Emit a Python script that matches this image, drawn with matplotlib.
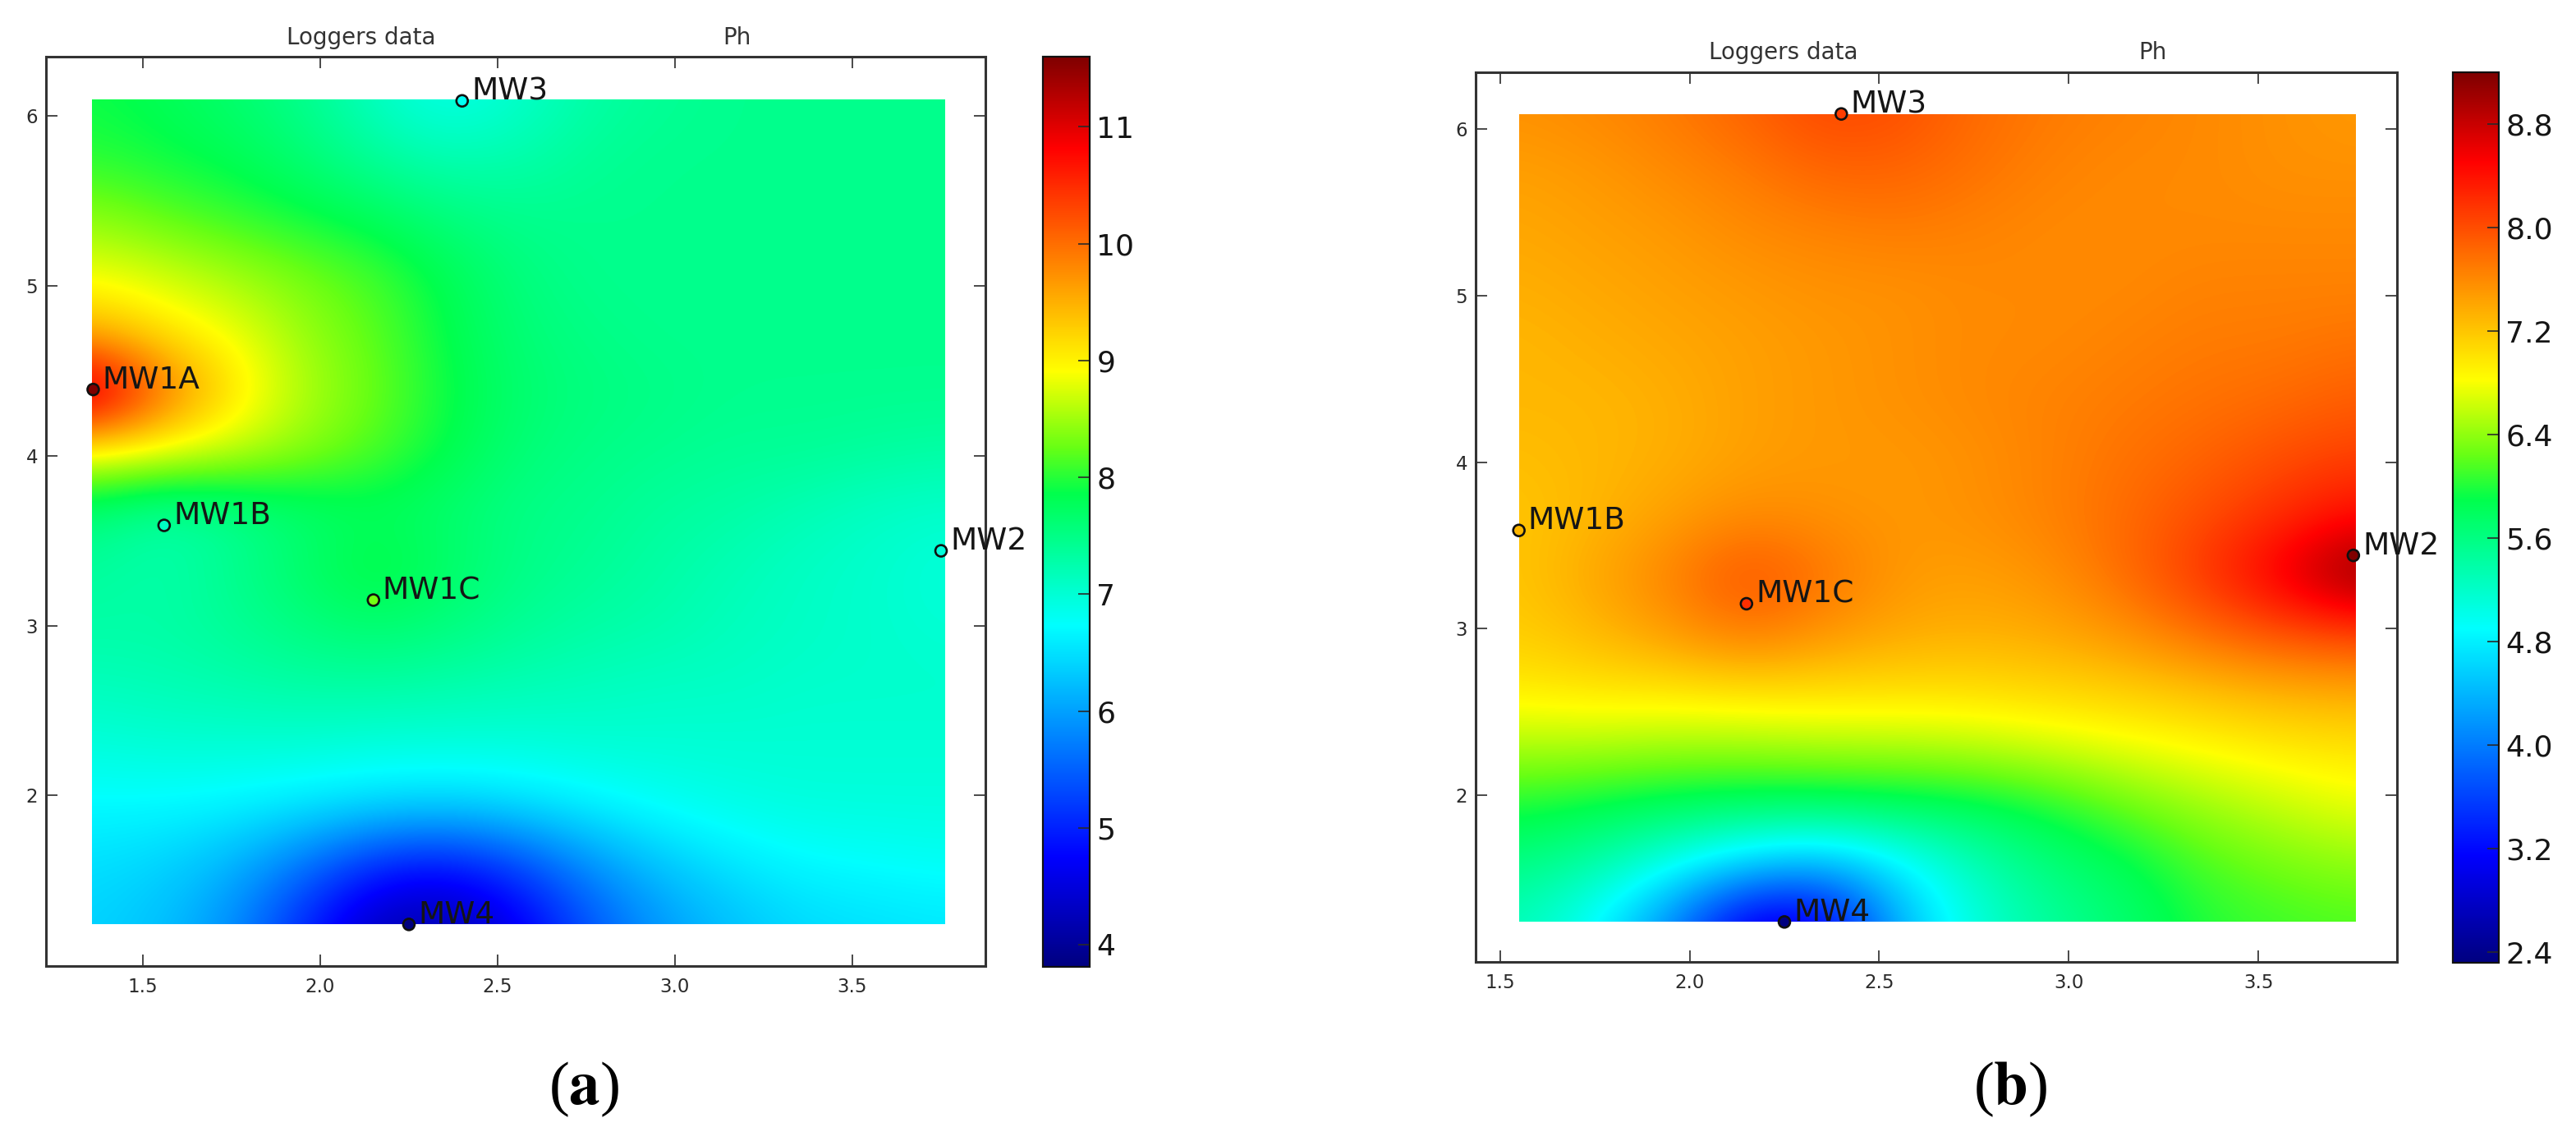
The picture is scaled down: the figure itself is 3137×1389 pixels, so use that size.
import matplotlib
matplotlib.use('Agg')
import numpy as np
import matplotlib.pyplot as plt
from matplotlib.colors import LinearSegmentedColormap, Normalize
from matplotlib.patches import Rectangle

W, H = 3137, 1389
INK = '#2a2a2a'

# well labels and positions
names_a = ['MW1A', 'MW1B', 'MW1C', 'MW2', 'MW3', 'MW4']
x_a = [1.36, 1.56, 2.15, 3.75, 2.40, 2.25]
y_a = [4.39, 3.59, 3.15, 3.44, 6.09, 1.24]
vals_a = [11.6, 7.1, 8.3, 6.95, 6.8, 3.81]

names_b = ['MW1B', 'MW1C', 'MW2', 'MW3', 'MW4']
x_b = [1.55, 2.15, 3.75, 2.40, 2.25]
y_b = [3.59, 3.15, 3.44, 6.09, 1.24]
vals_b = [7.3, 8.2, 9.2, 8.1, 2.32]

# estimated colour values on a coarse grid, top row first
grid_x_a = [1.36, 1.56, 1.76, 1.96, 2.16, 2.36, 2.56, 2.76, 2.96, 3.16, 3.36, 3.56, 3.76]
grid_x_b = [1.55, 1.75, 1.95, 2.15, 2.35, 2.55, 2.75, 2.95, 3.15, 3.35, 3.55, 3.75]
grid_y = [6.10, 5.75, 5.40, 5.05, 4.71, 4.36, 4.02, 3.67, 3.33, 2.98, 2.64, 2.29, 1.94, 1.60, 1.25]

field_a = [
    [7.90, 7.80, 7.65, 7.45, 7.10, 6.85, 7.05, 7.30, 7.40, 7.45, 7.45, 7.45, 7.45],
    [8.00, 7.90, 7.80, 7.60, 7.35, 7.20, 7.25, 7.40, 7.45, 7.45, 7.45, 7.45, 7.45],
    [8.40, 8.20, 8.05, 7.90, 7.75, 7.55, 7.45, 7.45, 7.45, 7.45, 7.45, 7.45, 7.45],
    [8.85, 8.70, 8.50, 8.30, 8.10, 7.80, 7.55, 7.45, 7.45, 7.45, 7.45, 7.45, 7.45],
    [9.50, 9.10, 8.85, 8.45, 8.20, 7.85, 7.60, 7.50, 7.45, 7.45, 7.45, 7.45, 7.45],
    [11.5, 10.0, 9.10, 8.55, 8.25, 7.90, 7.65, 7.55, 7.50, 7.45, 7.45, 7.45, 7.45],
    [8.90, 8.80, 8.65, 8.40, 8.15, 7.85, 7.60, 7.50, 7.45, 7.40, 7.40, 7.35, 7.30],
    [7.60, 7.30, 7.45, 7.65, 7.75, 7.65, 7.50, 7.45, 7.35, 7.30, 7.20, 7.10, 7.05],
    [7.35, 7.25, 7.45, 7.70, 7.95, 7.70, 7.50, 7.40, 7.30, 7.20, 7.10, 7.05, 6.95],
    [7.30, 7.30, 7.40, 7.55, 7.65, 7.55, 7.40, 7.30, 7.25, 7.15, 7.10, 7.05, 7.00],
    [7.15, 7.20, 7.25, 7.30, 7.30, 7.25, 7.20, 7.15, 7.10, 7.10, 7.05, 7.05, 7.05],
    [6.95, 7.00, 7.00, 7.00, 6.95, 6.95, 6.95, 7.00, 7.00, 7.00, 7.00, 7.00, 7.00],
    [6.70, 6.70, 6.65, 6.55, 6.45, 6.40, 6.50, 6.65, 6.80, 6.90, 6.95, 6.95, 6.95],
    [6.50, 6.40, 6.15, 5.65, 5.05, 4.90, 5.30, 5.90, 6.30, 6.55, 6.70, 6.75, 6.80],
    [6.40, 6.25, 5.85, 5.00, 4.20, 4.10, 4.60, 5.40, 5.95, 6.25, 6.45, 6.50, 6.55],
]

field_b = [
    [7.55, 7.60, 7.70, 7.85, 8.05, 8.00, 7.80, 7.70, 7.65, 7.60, 7.55, 7.50],
    [7.45, 7.50, 7.60, 7.70, 7.85, 7.85, 7.75, 7.65, 7.60, 7.60, 7.55, 7.55],
    [7.40, 7.45, 7.50, 7.60, 7.65, 7.70, 7.65, 7.60, 7.60, 7.60, 7.60, 7.60],
    [7.35, 7.40, 7.45, 7.50, 7.55, 7.55, 7.60, 7.60, 7.60, 7.65, 7.65, 7.65],
    [7.30, 7.35, 7.40, 7.45, 7.50, 7.55, 7.60, 7.60, 7.65, 7.70, 7.70, 7.75],
    [7.30, 7.30, 7.35, 7.45, 7.50, 7.55, 7.60, 7.65, 7.70, 7.75, 7.80, 7.90],
    [7.25, 7.30, 7.35, 7.45, 7.50, 7.50, 7.55, 7.65, 7.75, 7.85, 8.00, 8.10],
    [7.20, 7.30, 7.45, 7.60, 7.55, 7.50, 7.55, 7.65, 7.80, 8.00, 8.20, 8.45],
    [7.20, 7.40, 7.65, 8.00, 7.75, 7.50, 7.45, 7.55, 7.80, 8.15, 8.60, 9.20],
    [7.15, 7.30, 7.50, 7.75, 7.55, 7.40, 7.35, 7.40, 7.55, 7.80, 8.00, 8.10],
    [6.95, 7.00, 7.00, 7.05, 7.05, 7.05, 7.05, 7.10, 7.15, 7.25, 7.35, 7.40],
    [6.50, 6.50, 6.45, 6.45, 6.50, 6.50, 6.55, 6.65, 6.75, 6.85, 6.95, 7.00],
    [6.00, 5.90, 5.80, 5.75, 5.75, 5.80, 5.85, 6.00, 6.25, 6.45, 6.60, 6.75],
    [5.60, 5.40, 5.00, 4.60, 4.40, 4.80, 5.30, 5.65, 5.85, 6.15, 6.30, 6.40],
    [5.30, 4.90, 4.10, 2.90, 2.90, 4.40, 5.10, 5.45, 5.70, 6.00, 6.10, 6.15],
]

x_ticks = [1.5, 2.0, 2.5, 3.0, 3.5]
y_ticks = [2, 3, 4, 5, 6]
cbar_ticks_a = [4, 5, 6, 7, 8, 9, 10, 11]
cbar_ticks_b = [2.4, 3.2, 4.0, 4.8, 5.6, 6.4, 7.2, 8.0, 8.8]

# jet with the pale green middle taken out, like the picture
stops = [(0.0, (0, 0, 0.5)), (0.12, (0, 0, 1)), (0.375, (0, 1, 1)), (0.52, (0, 1, 0.3)),
         (0.57, (0.4, 1, 0.08)), (0.655, (1, 1, 0)), (0.9, (1, 0, 0)), (1.0, (0.5, 0, 0))]
cmap = LinearSegmentedColormap.from_list('loggers', stops, N=512)

plt.rcParams['mathtext.fontset'] = 'stix'
fig = plt.figure(figsize=(W / 100, H / 100), dpi=100)


def px_axes(left, top, right, bottom):
    return fig.add_axes([left / W, 1 - bottom / H, (right - left) / W, (bottom - top) / H])


def draw_panel(box, cbar_box, xlim, ylim, grid_x, field, bounds, vrange, names, xs, ys, vals, cticks, cfmt):
    ax = px_axes(*box)
    norm = Normalize(*vrange)
    dx = (grid_x[1] - grid_x[0]) / 2
    dy = (grid_y[0] - grid_y[1]) / 2
    im = ax.imshow(np.array(field), cmap=cmap, norm=norm, aspect='auto', interpolation='bicubic',
                   interpolation_stage='data',
                   extent=[grid_x[0] - dx, grid_x[-1] + dx, grid_y[-1] - dy, grid_y[0] + dy])
    clip = Rectangle((bounds[0], bounds[2]), bounds[1] - bounds[0], bounds[3] - bounds[2], transform=ax.transData)
    im.set_clip_path(clip)
    ax.scatter(xs, ys, c=vals, cmap=cmap, norm=norm, s=100, edgecolors='#101010', linewidths=1.9,
               clip_on=False, zorder=3)
    for name, x, y in zip(names, xs, ys):
        ax.annotate(name, (x, y), xytext=(8, 1), textcoords='offset points', fontsize=27,
                    color='#151515', va='baseline', zorder=4)
    ax.set_xlim(*xlim)
    ax.set_ylim(*ylim)
    ax.set_xticks(x_ticks)
    ax.set_yticks(y_ticks)
    ax.set_xticklabels(['%.1f' % t for t in x_ticks])
    ax.tick_params(direction='in', top=True, right=True, length=10, width=1.2, color=INK,
                   labelcolor=INK, labelsize=16.5)
    ax.tick_params(axis='x', pad=10)
    ax.tick_params(axis='y', pad=7)
    for sp in ax.spines.values():
        sp.set_linewidth(2.2)
        sp.set_color('#333333')

    cax = px_axes(*cbar_box)
    cb = fig.colorbar(im, cax=cax)
    cb.set_ticks(cticks)
    cb.set_ticklabels([cfmt % t for t in cticks])
    cax.tick_params(direction='in', length=10, width=1.2, color=INK, labelcolor='#151515', labelsize=26, pad=6)
    cb.outline.set_linewidth(1.6)
    cb.outline.set_edgecolor('#111111')
    return ax


draw_panel((56, 69, 1200, 1176), (1270, 69, 1327, 1177), (1.227, 3.875), (0.995, 6.35),
           grid_x_a, field_a, (1.356, 3.76, 1.24, 6.10), (3.81, 11.6),
           names_a, x_a, y_a, vals_a, cbar_ticks_a, '%d')
draw_panel((1797, 88, 2919, 1171), (2987, 88, 3043, 1172), (1.436, 3.865), (1.0, 6.34),
           grid_x_b, field_b, (1.55, 3.756, 1.244, 6.09), (2.32, 9.2),
           names_b, x_b, y_b, vals_b, cbar_ticks_b, '%.1f')

# header texts above each panel
for label, px, py in [('Loggers data', 440, 46), ('Ph', 897, 46), ('Loggers data', 2172, 64), ('Ph', 2621, 64)]:
    fig.text(px / W, 1 - py / H, label, ha='center', va='center', fontsize=20, color='#333333')

# panel letters
for label, px in [(r'($\mathbf{a}$)', 711), (r'($\mathbf{b}$)', 2448)]:
    fig.text(px / W, 1 - 1326 / H, label, ha='center', va='center', fontsize=54,
             family='Liberation Serif', color='black')

fig.savefig('out.png', dpi=100, facecolor='white')
